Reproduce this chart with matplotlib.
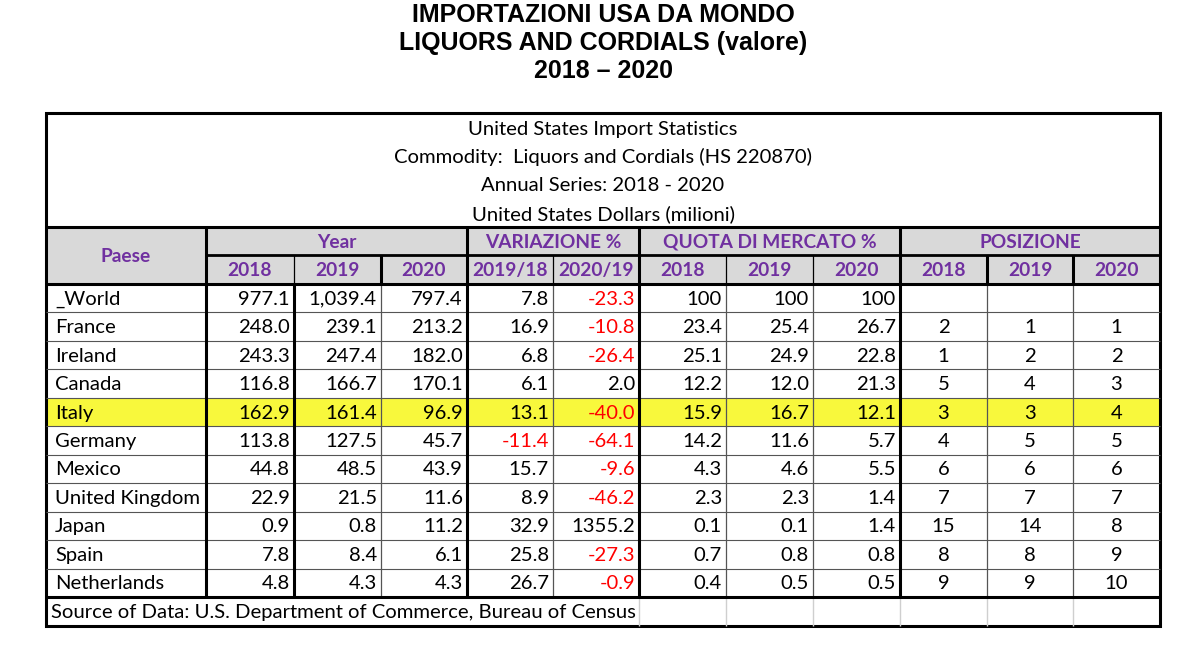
import matplotlib
matplotlib.use("Agg")
import matplotlib.pyplot as plt
from matplotlib.patches import Rectangle

# Table data
countries = ["_World", "France", "Ireland", "Canada", "Italy", "Germany",
             "Mexico", "United Kingdom", "Japan", "Spain", "Netherlands"]
val_2018 = [977.1, 248.0, 243.3, 116.8, 162.9, 113.8, 44.8, 22.9, 0.9, 7.8, 4.8]
val_2019 = [1039.4, 239.1, 247.4, 166.7, 161.4, 127.5, 48.5, 21.5, 0.8, 8.4, 4.3]
val_2020 = [797.4, 213.2, 182.0, 170.1, 96.9, 45.7, 43.9, 11.6, 11.2, 6.1, 4.3]
var_19_18 = [7.8, 16.9, 6.8, 6.1, 13.1, -11.4, 15.7, 8.9, 32.9, 25.8, 26.7]
var_20_19 = [-23.3, -10.8, -26.4, 2.0, -40.0, -64.1, -9.6, -46.2, 1355.2, -27.3, -0.9]
share_2018 = [100, 23.4, 25.1, 12.2, 15.9, 14.2, 4.3, 2.3, 0.1, 0.7, 0.4]
share_2019 = [100, 25.4, 24.9, 12.0, 16.7, 11.6, 4.6, 2.3, 0.1, 0.8, 0.5]
share_2020 = [100, 26.7, 22.8, 21.3, 12.1, 5.7, 5.5, 1.4, 1.4, 0.8, 0.5]
pos_2018 = [None, 2, 1, 5, 3, 4, 6, 7, 15, 8, 9]
pos_2019 = [None, 1, 2, 4, 3, 5, 6, 7, 14, 8, 9]
pos_2020 = [None, 1, 2, 3, 4, 5, 6, 7, 8, 9, 10]
highlight = "Italy"

title_lines = ["IMPORTAZIONI USA DA MONDO", "LIQUORS AND CORDIALS (valore)", "2018 \u2013 2020"]
info_lines = ["United States Import Statistics",
              "Commodity:  Liquors and Cordials (HS 220870)",
              "Annual Series: 2018 - 2020",
              "United States Dollars (milioni)"]
groups = ["Year", "VARIAZIONE %", "QUOTA DI MERCATO %", "POSIZIONE"]
subheads = ["2018", "2019", "2020", "2019/18", "2020/19",
            "2018", "2019", "2020", "2018", "2019", "2020"]
source = "Source of Data: U.S. Department of Commerce, Bureau of Census"

PURPLE = "#7030a0"
GRAY = "#d9d9d9"
YELLOW = "#f8f83c"
RED = "#ff0000"
FONT = "Lato"
FS = 14.6

# layout in pixels
xs = [46, 206, 294, 381, 467, 553, 639, 726, 813, 900, 987, 1073, 1160]
box_top, info_bot = 113, 227
h1_bot, h2_bot = 255, 284
row_h = 28.45
data_bot = h2_bot + row_h * len(countries)
src_bot = 626

fig = plt.figure(figsize=(12, 6.67), dpi=100)
ax = fig.add_axes([0, 0, 1, 1])
ax.set_xlim(0, 1200)
ax.set_ylim(667, 0)
ax.axis("off")

for i, line in enumerate(title_lines):
    ax.text(603, 15 + i * 28, line, ha="center", va="center", fontsize=18,
            fontweight="bold", family="Liberation Sans")

for i, line in enumerate(info_lines):
    ax.text(603, 129 + i * 28.3, line, ha="center", va="center", fontsize=FS, family=FONT)

# header fill
ax.add_patch(Rectangle((xs[0], info_bot), xs[-1] - xs[0], h2_bot - info_bot, color=GRAY, lw=0))

# highlight row
hi = countries.index(highlight)
ax.add_patch(Rectangle((xs[0], h2_bot + hi * row_h), xs[-1] - xs[0], row_h, color=YELLOW, lw=0))

def hline(y, x0, x1, lw, c="black"):
    ax.plot([x0, x1], [y, y], color=c, lw=lw, solid_capstyle="butt")

def vline(x, y0, y1, lw, c="black"):
    ax.plot([x, x], [y0, y1], color=c, lw=lw, solid_capstyle="butt")

# data row lines
for i in range(1, len(countries)):
    hline(h2_bot + i * row_h, xs[0], xs[-1], 0.8, "#555555")

# source row gridlines
for x in xs[6:-1]:
    vline(x, data_bot, src_bot, 1.0, "#cfcfcf")

# header verticals
hline(h1_bot, xs[1], xs[-1], 2.0)
head_thick = {1, 3, 4, 6, 9, 10, 11}
for k in range(1, len(xs) - 1):
    lw = 2.2 if k in head_thick else 0.9
    if k in (1, 4, 6, 9):
        vline(xs[k], info_bot, h2_bot, lw)
    else:
        vline(xs[k], h1_bot, h2_bot, lw)

# data verticals
data_thick = {1, 2, 4, 6, 9}
for k in range(1, len(xs) - 1):
    lw = 2.2 if k in data_thick else 0.9
    c = "black" if k in data_thick else "#555555"
    vline(xs[k], h2_bot, data_bot, lw, c)

# thick horizontals and outer box
for y in (info_bot, h2_bot, data_bot):
    hline(y, xs[0], xs[-1], 2.2)
ax.add_patch(Rectangle((xs[0], box_top), xs[-1] - xs[0], src_bot - box_top,
                       fill=False, lw=2.2, ec="black"))

# header text
ax.text((xs[0] + xs[1]) / 2, (info_bot + h2_bot) / 2 + 1, "Paese", ha="center", va="center",
        fontsize=13.8, fontweight="bold", color=PURPLE, family=FONT)
spans = [(1, 4), (4, 6), (6, 9), (9, 12)]
for g, (a, b) in zip(groups, spans):
    ax.text((xs[a] + xs[b]) / 2, (info_bot + h1_bot) / 2 + 1, g, ha="center", va="center",
            fontsize=13.8, fontweight="bold", color=PURPLE, family=FONT)
for k, s in enumerate(subheads):
    ax.text((xs[k + 1] + xs[k + 2]) / 2, (h1_bot + h2_bot) / 2 + 1, s, ha="center", va="center",
            fontsize=13.8, fontweight="bold", color=PURPLE, family=FONT)

def fmt(v, comma):
    if isinstance(v, int):
        return str(v)
    return f"{v:,.1f}" if comma else f"{v:.1f}"

num_cols = [val_2018, val_2019, val_2020, var_19_18, var_20_19, share_2018, share_2019, share_2020]
pos_cols = [pos_2018, pos_2019, pos_2020]

for i, name in enumerate(countries):
    yc = h2_bot + (i + 0.5) * row_h + 1
    ax.text(xs[0] + 9, yc, name, ha="left", va="center", fontsize=FS, family=FONT)
    for k, col in enumerate(num_cols):
        v = col[i]
        color = RED if k in (3, 4) and v < 0 else "black"
        ax.text(xs[k + 2] - 4, yc, fmt(v, k < 3), ha="right", va="center", fontsize=FS,
                family=FONT, color=color)
    for k, col in enumerate(pos_cols):
        v = col[i]
        if v is not None:
            ax.text((xs[k + 9] + xs[k + 10]) / 2, yc, str(v), ha="center", va="center",
                    fontsize=FS, family=FONT)

ax.text(xs[0] + 5, (data_bot + src_bot) / 2 + 1, source, ha="left", va="center",
        fontsize=FS, family=FONT)

fig.savefig("out.png", dpi=100, facecolor="white")
